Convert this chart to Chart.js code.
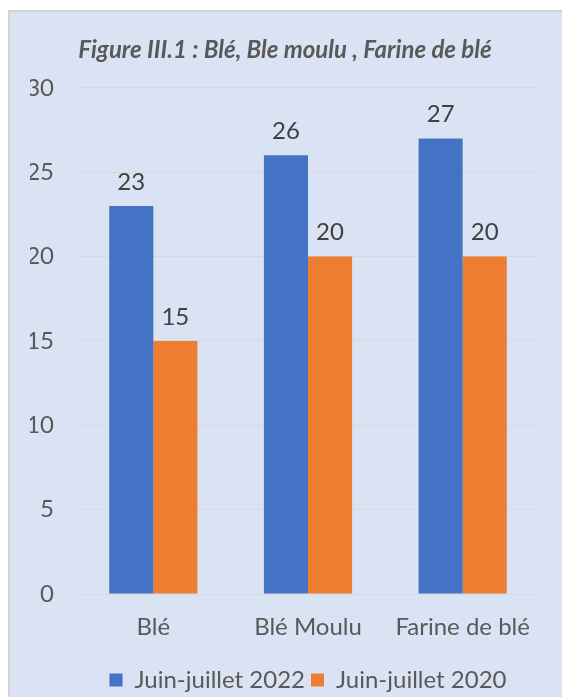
<!DOCTYPE html>
<html>
<head>
<meta charset="utf-8">
<script src="https://cdn.jsdelivr.net/npm/chart.js@4"></script>
<style>
  html, body { margin: 0; padding: 0; background: #ffffff; overflow: hidden; }
  #panel {
    position: absolute; left: 8px; top: 10px; width: 552px; height: 685px;
    background: #dae3f3; border-top: 2px solid #d2d2d2; border-left: 2px solid #d2d2d2;
  }
  #wrap { position: absolute; left: 0; top: 0; width: 552px; height: 690px; }
</style>
</head>
<body>
<div id="panel"><div id="wrap"><canvas id="chart"></canvas></div></div>
<script>
const categories = ["Blé", "Blé Moulu", "Farine de blé"];
const seriesNames = ["Juin-juillet 2022", "Juin-juillet 2020"];
const values2022 = [23, 26, 27];
const values2020 = [15, 20, 20];
const titleText = "Figure III.1 : Blé, Ble moulu , Farine de blé";

const FONT = "Lato, 'Open Sans', sans-serif";

// draw the value above each bar
const valueLabels = {
  id: "valueLabels",
  afterDatasetsDraw(chart) {
    const ctx = chart.ctx;
    ctx.save();
    ctx.font = "24px " + FONT;
    ctx.fillStyle = "#404040";
    ctx.textAlign = "center";
    ctx.textBaseline = "middle";
    chart.data.datasets.forEach((ds, i) => {
      chart.getDatasetMeta(i).data.forEach((bar, j) => {
        ctx.fillText(ds.data[j], bar.x, bar.y - 24);
      });
    });
    ctx.restore();
  }
};

new Chart(document.getElementById("chart"), {
  type: "bar",
  data: {
    labels: categories,
    datasets: [
      { label: seriesNames[0], data: values2022, backgroundColor: "#4472c4" },
      { label: seriesNames[1], data: values2020, backgroundColor: "#ed7d31" }
    ]
  },
  options: {
    responsive: true,
    maintainAspectRatio: false,
    animation: false,
    categoryPercentage: 0.57,
    barPercentage: 1.0,
    layout: { padding: { left: 20, right: 22, top: 0, bottom: 0 } },
    plugins: {
      title: {
        display: true,
        text: titleText,
        color: "#595959",
        font: { family: FONT, size: 24, style: "italic", weight: "bold" },
        padding: { top: 24, bottom: 23 }
      },
      legend: {
        position: "bottom",
        fullSize: false,
        labels: {
          color: "#595959",
          font: { family: FONT, size: 24 },
          boxWidth: 13,
          boxHeight: 13,
          padding: 6
        }
      },
      tooltip: { enabled: false }
    },
    scales: {
      x: {
        grid: { display: false, drawTicks: false },
        border: { display: false },
        ticks: { color: "#595959", font: { family: FONT, size: 24 }, padding: 19 },
        afterFit(scale) { scale.height = 68; }
      },
      y: {
        min: 0,
        max: 30,
        ticks: { stepSize: 5, color: "#595959", font: { family: FONT, size: 24 }, padding: 22 },
        grid: { color: "#d9d9d9", drawTicks: false },
        border: { display: false },
        afterFit(scale) { scale.width = 46; }
      }
    }
  },
  plugins: [valueLabels]
});
</script>
</body>
</html>
